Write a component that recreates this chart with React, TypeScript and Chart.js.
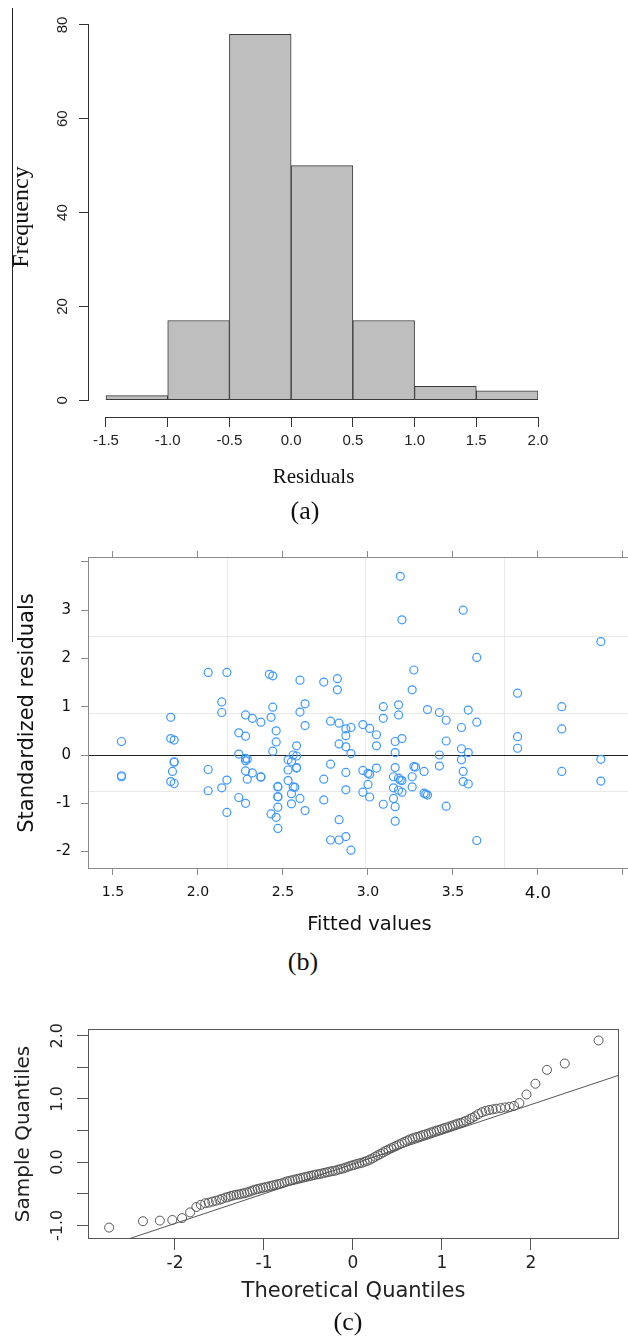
import React, { useEffect, useRef } from "react";
import { Chart, registerables } from "chart.js";

Chart.register(...registerables);

// ---------- Panel (a): histogram of residuals ----------
const histBinCenters = [-1.25, -0.75, -0.25, 0.25, 0.75, 1.25, 1.75];
const histCounts = [1, 17, 78, 50, 17, 3, 2];
const histXTicks = [-1.5, -1.0, -0.5, 0.0, 0.5, 1.0, 1.5, 2.0];
const histXLabels = ["-1.5", "-1.0", "-0.5", "0.0", "0.5", "1.0", "1.5", "2.0"];
const histYTicks = [0, 20, 40, 60, 80];
const histYLabels = ["0", "20", "40", "60", "80"];

// ---------- Panel (b): standardized residuals vs fitted ----------
const bPoints: number[][] = [
  [3.19, 3.7], [3.56, 3.0], [3.2, 2.8], [4.37, 2.35], [3.64, 2.02], [2.06, 1.71], [2.17, 1.71],
  [2.42, 1.67], [2.44, 1.64], [2.6, 1.55], [2.74, 1.51], [2.82, 1.58], [2.82, 1.35], [3.27, 1.76],
  [3.26, 1.35], [3.88, 1.28],
  [2.14, 1.1], [2.14, 0.88], [1.84, 0.78], [2.28, 0.83], [2.32, 0.76], [2.37, 0.68], [2.43, 0.78],
  [2.44, 0.99], [2.6, 0.89], [2.63, 1.06], [2.63, 0.61], [2.78, 0.7], [2.83, 0.66], [2.87, 0.54],
  [2.9, 0.57], [2.97, 0.63], [3.01, 0.55], [3.05, 0.42], [3.09, 1.0], [3.09, 0.76], [3.18, 1.04],
  [3.18, 0.83], [3.35, 0.94], [3.42, 0.88], [3.46, 0.72], [3.59, 0.93], [3.55, 0.57], [3.64, 0.68],
  [4.14, 1.0], [4.14, 0.54], [3.88, 0.38], [3.88, 0.14], [1.55, 0.28], [1.84, 0.34], [1.86, 0.31],
  [2.24, 0.46], [2.28, 0.39], [2.46, 0.5], [2.46, 0.27], [2.44, 0.08], [2.58, 0.19], [2.83, 0.23],
  [2.87, 0.4], [2.87, 0.17], [2.9, 0.03], [3.05, 0.19], [3.16, 0.28], [3.2, 0.34], [3.16, 0.05],
  [3.46, 0.29], [3.55, 0.13], [3.59, 0.05], [3.42, 0.0], [2.24, 0.02],
  [1.55, -0.43], [1.55, -0.45], [1.86, -0.14], [1.86, -0.15], [1.85, -0.34], [1.84, -0.55],
  [1.86, -0.59], [2.06, -0.3], [2.06, -0.74], [2.14, -0.68], [2.17, -0.52], [2.17, -1.19],
  [2.24, -0.88], [2.28, -1.0], [2.28, -0.07], [2.28, -0.12], [2.29, -0.09], [2.28, -0.33],
  [2.29, -0.5], [2.32, -0.37], [2.37, -0.45], [2.37, -0.46], [2.43, -1.22], [2.46, -1.29],
  [2.47, -1.52], [2.47, -0.65], [2.47, -0.66], [2.47, -0.86], [2.47, -0.87], [2.47, -1.08],
  [2.53, -0.1], [2.55, -0.14], [2.56, 0.0], [2.58, -0.02], [2.58, -0.26], [2.58, -0.27],
  [2.53, -0.31], [2.53, -0.53], [2.56, -0.66], [2.57, -0.67], [2.55, -0.8], [2.55, -1.01],
  [2.6, -0.9], [2.63, -1.15], [2.74, -0.5], [2.74, -0.93], [2.78, -0.19], [2.83, -1.34],
  [2.87, -0.36], [2.87, -0.72], [2.78, -1.76], [2.83, -1.76], [2.87, -1.69], [2.9, -1.97],
  [2.97, -0.32], [2.97, -0.77], [3.0, -0.38], [3.01, -0.4], [3.0, -0.61], [3.01, -0.87],
  [3.05, -0.27], [3.09, -1.02], [3.15, -0.45], [3.16, -0.26], [3.18, -0.48], [3.19, -0.52],
  [3.2, -0.53], [3.15, -0.68], [3.18, -0.73], [3.2, -0.77], [3.15, -0.9], [3.16, -1.07],
  [3.16, -1.37], [3.26, -0.45], [3.26, -0.66], [3.27, -0.24], [3.28, -0.25], [3.33, -0.34],
  [3.33, -0.79], [3.35, -0.83], [3.34, -0.81], [3.42, -0.23], [3.46, -1.06], [3.55, -0.1],
  [3.56, -0.34], [3.56, -0.55], [3.59, -0.6], [3.64, -1.77], [4.14, -0.34], [4.37, -0.09],
  [4.37, -0.54],
];
const bXTicks = [1.5, 2.0, 2.5, 3.0, 3.5, 4.0, 4.5];
const bXLabels = ["1.5", "2.0", "2.5", "3.0", "3.5", "4.0", ""];
const bYTicks = [-2, -1, 0, 1, 2, 3, 4];
const bYLabels = ["-2", "-1", "0", "1", "2", "3", ""];
const bGridX = [2.17, 2.98, 3.8];
const bGridY = [2.46, 0.87, -0.75];
const bRefY = 0;

// ---------- Panel (c): normal Q-Q plot ----------
const qqPoints: number[][] = [
  [-2.74, -1.035], [-2.36, -0.935], [-2.17, -0.925], [-2.03, -0.915], [-1.92, -0.885], [-1.83, -0.795],
  [-1.76, -0.71], [-1.71, -0.675], [-1.66, -0.65], [-1.62, -0.64], [-1.58, -0.625], [-1.54, -0.61],
  [-1.5, -0.595], [-1.47, -0.58], [-1.43, -0.56], [-1.4, -0.55], [-1.37, -0.535], [-1.34, -0.525],
  [-1.31, -0.515], [-1.28, -0.51], [-1.25, -0.5], [-1.22, -0.49], [-1.19, -0.48], [-1.16, -0.465],
  [-1.13, -0.45], [-1.1, -0.435], [-1.07, -0.425], [-1.04, -0.415], [-1.01, -0.405], [-0.98, -0.395],
  [-0.95, -0.385], [-0.92, -0.375], [-0.89, -0.365], [-0.86, -0.355], [-0.83, -0.345], [-0.8, -0.335],
  [-0.77, -0.32], [-0.74, -0.305], [-0.71, -0.295], [-0.68, -0.285], [-0.65, -0.275], [-0.62, -0.265],
  [-0.59, -0.255], [-0.56, -0.245], [-0.53, -0.235], [-0.5, -0.225], [-0.47, -0.215], [-0.44, -0.205],
  [-0.41, -0.195], [-0.38, -0.19], [-0.35, -0.18], [-0.32, -0.17], [-0.29, -0.16], [-0.26, -0.15],
  [-0.23, -0.14], [-0.2, -0.135], [-0.17, -0.12], [-0.14, -0.11], [-0.11, -0.1], [-0.08, -0.085],
  [-0.05, -0.07], [-0.02, -0.055], [0.01, -0.045], [0.04, -0.03], [0.07, -0.02], [0.1, -0.01],
  [0.13, 0.005], [0.16, 0.02], [0.19, 0.04], [0.22, 0.06], [0.25, 0.085], [0.28, 0.11],
  [0.31, 0.13], [0.34, 0.155], [0.37, 0.18], [0.4, 0.2], [0.43, 0.22], [0.46, 0.24],
  [0.49, 0.26], [0.52, 0.28], [0.55, 0.3], [0.58, 0.32], [0.61, 0.34], [0.64, 0.36],
  [0.67, 0.375], [0.7, 0.39], [0.73, 0.4], [0.76, 0.415], [0.79, 0.43], [0.82, 0.44],
  [0.85, 0.455], [0.88, 0.47], [0.91, 0.485], [0.94, 0.5], [0.97, 0.51], [1.0, 0.525],
  [1.03, 0.54], [1.06, 0.55], [1.09, 0.565], [1.12, 0.58], [1.15, 0.595], [1.18, 0.61],
  [1.21, 0.62], [1.24, 0.635], [1.27, 0.655], [1.31, 0.68], [1.34, 0.7], [1.37, 0.725],
  [1.41, 0.76], [1.45, 0.79], [1.49, 0.81], [1.53, 0.825], [1.57, 0.835], [1.61, 0.845],
  [1.66, 0.855], [1.71, 0.865], [1.76, 0.875], [1.81, 0.89], [1.87, 0.935], [1.95, 1.07],
  [2.05, 1.24], [2.18, 1.46], [2.38, 1.56], [2.76, 1.925],
];
const qqLineIntercept = -0.03;
const qqLineSlope = 0.47;
const cXTicks = [-2, -1, 0, 1, 2];
const cXLabels = ["-2", "-1", "0", "1", "2"];
const cYTicks = [-1, -0.5, 0, 0.5, 1, 1.5, 2];
const cYLabels = ["-1.0", "", "0.0", "", "1.0", "", "2.0"];

// ---------- helpers ----------
const SERIF = '"Liberation Serif", "Times New Roman", serif';
const SANS_R = '"Liberation Sans", Arial, sans-serif';
const SANS_L = '"DejaVu Sans", "Noto Sans", sans-serif';

const setTicks = (values: number[]) => (scale: any) => {
  scale.ticks = values.map((v) => ({ value: v }));
};
const labelFor = (values: number[], labels: string[]) => (v: any) => {
  const i = values.indexOf(Number(v));
  return i >= 0 ? labels[i] : "";
};
const fixWidth = (w: number) => (scale: any) => {
  scale.width = w;
};
const fixHeight = (h: number) => (scale: any) => {
  scale.height = h;
};

const histAxesPlugin = {
  id: "histAxes",
  afterDraw(chart: any) {
    const { ctx, chartArea, scales } = chart;
    const xs = scales.x;
    const ys = scales.y;
    ctx.save();
    ctx.strokeStyle = "#333";
    ctx.lineWidth = 1;
    ctx.beginPath();
    const yb = Math.round(chartArea.bottom) + 0.5;
    ctx.moveTo(Math.round(xs.getPixelForValue(histXTicks[0])), yb);
    ctx.lineTo(Math.round(xs.getPixelForValue(histXTicks[histXTicks.length - 1])) + 1, yb);
    const xl = Math.round(chartArea.left) - 0.5;
    ctx.moveTo(xl, Math.round(ys.getPixelForValue(histYTicks[0])) + 1);
    ctx.lineTo(xl, Math.round(ys.getPixelForValue(histYTicks[histYTicks.length - 1])));
    ctx.stroke();
    ctx.restore();
  },
};

const residPlugin = {
  id: "residDecor",
  beforeDatasetsDraw(chart: any) {
    const { ctx, chartArea, scales } = chart;
    const xs = scales.x;
    const ys = scales.y;
    ctx.save();
    ctx.lineWidth = 1;
    ctx.strokeStyle = "#e9e9e9";
    ctx.beginPath();
    bGridX.forEach((g) => {
      const p = Math.round(xs.getPixelForValue(g)) + 0.5;
      ctx.moveTo(p, chartArea.top);
      ctx.lineTo(p, chartArea.bottom);
    });
    bGridY.forEach((g) => {
      const p = Math.round(ys.getPixelForValue(g)) + 0.5;
      ctx.moveTo(chartArea.left, p);
      ctx.lineTo(chartArea.right, p);
    });
    ctx.stroke();
    ctx.strokeStyle = "#222";
    ctx.beginPath();
    const z = Math.round(ys.getPixelForValue(bRefY)) + 0.5;
    ctx.moveTo(chartArea.left, z);
    ctx.lineTo(chartArea.right, z);
    ctx.stroke();
    ctx.restore();
  },
  afterDraw(chart: any) {
    const { ctx, chartArea } = chart;
    ctx.save();
    ctx.strokeStyle = "#8a8a8a";
    ctx.lineWidth = 1;
    ctx.strokeRect(
      Math.round(chartArea.left) - 0.5,
      Math.round(chartArea.top) - 0.5,
      Math.round(chartArea.right - chartArea.left) + 1,
      Math.round(chartArea.bottom - chartArea.top) + 1
    );
    ctx.restore();
  },
};

const qqPlugin = {
  id: "qqDecor",
  beforeDatasetsDraw(chart: any) {
    const { ctx, chartArea, scales } = chart;
    const xs = scales.x;
    const ys = scales.y;
    ctx.save();
    ctx.beginPath();
    ctx.rect(chartArea.left, chartArea.top, chartArea.right - chartArea.left, chartArea.bottom - chartArea.top);
    ctx.clip();
    ctx.strokeStyle = "#555";
    ctx.lineWidth = 1;
    ctx.beginPath();
    const x0 = xs.min;
    const x1 = xs.max;
    ctx.moveTo(xs.getPixelForValue(x0), ys.getPixelForValue(qqLineIntercept + qqLineSlope * x0));
    ctx.lineTo(xs.getPixelForValue(x1), ys.getPixelForValue(qqLineIntercept + qqLineSlope * x1));
    ctx.stroke();
    ctx.restore();
  },
  afterDraw(chart: any) {
    const { ctx, chartArea } = chart;
    ctx.save();
    ctx.strokeStyle = "#555";
    ctx.lineWidth = 1;
    ctx.strokeRect(
      Math.round(chartArea.left) - 0.5,
      Math.round(chartArea.top) - 0.5,
      Math.round(chartArea.right - chartArea.left) + 1,
      Math.round(chartArea.bottom - chartArea.top) + 1
    );
    ctx.restore();
  },
};

function histConfig(): any {
  return {
    type: "bar",
    data: {
      datasets: [
        {
          data: histBinCenters.map((c, i) => ({ x: c, y: histCounts[i] })),
          backgroundColor: "#bebebe",
          borderColor: "#3a3a3a",
          borderWidth: 1,
          borderSkipped: false,
          barPercentage: 1,
          categoryPercentage: 1,
        },
      ],
    },
    options: {
      responsive: false,
      animation: false,
      events: [],
      layout: { padding: { left: 0, top: 10, right: 90, bottom: 0 } },
      plugins: { legend: { display: false }, tooltip: { enabled: false } },
      scales: {
        x: {
          type: "linear",
          min: -1.6377,
          max: 2.0,
          offset: false,
          afterBuildTicks: setTicks(histXTicks),
          afterFit: fixHeight(83),
          grid: { offset: false, drawOnChartArea: false, drawTicks: true, tickLength: 10, tickColor: "#333", color: "#333" },
          border: { display: false },
          ticks: {
            autoSkip: false,
            maxRotation: 0,
            padding: 5,
            color: "#222",
            font: { family: SANS_R, size: 15 },
            callback: labelFor(histXTicks, histXLabels),
          },
          title: {
            display: true,
            text: "Residuals",
            color: "#111",
            font: { family: SERIF, size: 21 },
            padding: { top: 0, bottom: 10 },
          },
        },
        y: {
          type: "linear",
          min: -3.56,
          max: 81.68,
          afterBuildTicks: setTicks(histYTicks),
          afterFit: fixWidth(89),
          grid: { drawOnChartArea: false, drawTicks: true, tickLength: 10, tickColor: "#333", color: "#333" },
          border: { display: false },
          ticks: {
            autoSkip: false,
            minRotation: 90,
            maxRotation: 90,
            crossAlign: "center",
            padding: 8,
            color: "#222",
            font: { family: SANS_R, size: 15 },
            callback: labelFor(histYTicks, histYLabels),
          },
          title: {
            display: true,
            text: "Frequency",
            color: "#111",
            font: { family: SERIF, size: 24 },
            padding: { top: 7, bottom: 0 },
          },
        },
      },
    },
    plugins: [histAxesPlugin],
  };
}

function residConfig(): any {
  return {
    type: "scatter",
    data: {
      datasets: [
        {
          data: bPoints.map((p) => ({ x: p[0], y: p[1] })),
          pointStyle: "circle",
          pointRadius: 4,
          borderWidth: 1.2,
          borderColor: "#3d98ff",
          backgroundColor: "rgba(0,0,0,0)",
        },
      ],
    },
    options: {
      responsive: false,
      animation: false,
      events: [],
      layout: { padding: { left: 0, top: 0, right: 70, bottom: 0 } },
      plugins: { legend: { display: false }, tooltip: { enabled: false } },
      scales: {
        x: {
          type: "linear",
          position: "bottom",
          min: 1.359,
          max: 4.659,
          afterBuildTicks: setTicks(bXTicks),
          afterFit: fixHeight(72),
          grid: { drawOnChartArea: false, drawTicks: true, tickLength: 7, tickColor: "#8a8a8a", color: "#8a8a8a" },
          border: { display: false },
          ticks: {
            autoSkip: false,
            maxRotation: 0,
            padding: 9,
            color: "#111",
            font: (ctx: any) =>
              ctx.tick && ctx.tick.value === 4
                ? { family: SANS_L, size: 16.5 }
                : { family: SANS_L, size: 14 },
            callback: labelFor(bXTicks, bXLabels),
          },
          title: {
            display: true,
            text: "Fitted values",
            color: "#111",
            font: { family: SANS_L, size: 19.5 },
            padding: { top: 0, bottom: 3 },
          },
        },
        xTop: {
          type: "linear",
          axis: "x",
          position: "top",
          min: 1.359,
          max: 4.659,
          afterBuildTicks: setTicks(bXTicks),
          afterFit: fixHeight(28),
          grid: { drawOnChartArea: false, drawTicks: true, tickLength: 7, tickColor: "#8a8a8a", color: "#8a8a8a" },
          border: { display: false },
          ticks: { display: false },
        },
        y: {
          type: "linear",
          min: -2.34,
          max: 4.08,
          afterBuildTicks: setTicks(bYTicks),
          afterFit: fixWidth(89),
          grid: { drawOnChartArea: false, drawTicks: true, tickLength: 8, tickColor: "#8a8a8a", color: "#8a8a8a" },
          border: { display: false },
          ticks: {
            autoSkip: false,
            padding: 10,
            color: "#111",
            font: { family: SANS_L, size: 15 },
            callback: labelFor(bYTicks, bYLabels),
          },
          title: {
            display: true,
            text: "Standardized residuals",
            color: "#111",
            font: { family: SANS_L, size: 21 },
            padding: { top: 15, bottom: 0 },
          },
        },
      },
    },
    plugins: [residPlugin],
  };
}

function qqConfig(): any {
  return {
    type: "scatter",
    data: {
      datasets: [
        {
          data: qqPoints.map((p) => ({ x: p[0], y: p[1] })),
          pointStyle: "circle",
          pointRadius: 4.5,
          borderWidth: 1,
          borderColor: "#555",
          backgroundColor: "rgba(0,0,0,0)",
        },
      ],
    },
    options: {
      responsive: false,
      animation: false,
      events: [],
      layout: { padding: { left: 0, top: 30, right: 10, bottom: 0 } },
      plugins: { legend: { display: false }, tooltip: { enabled: false } },
      scales: {
        x: {
          type: "linear",
          min: -2.966,
          max: 2.978,
          afterBuildTicks: setTicks(cXTicks),
          afterFit: fixHeight(100),
          grid: { drawOnChartArea: false, drawTicks: true, tickLength: 12, tickColor: "#555", color: "#555" },
          border: { display: false },
          ticks: {
            autoSkip: false,
            maxRotation: 0,
            padding: 3,
            color: "#222",
            font: { family: SANS_L, size: 17 },
            callback: labelFor(cXTicks, cXLabels),
          },
          title: {
            display: true,
            text: "Theoretical Quantiles",
            color: "#222",
            font: { family: SANS_L, size: 21 },
            padding: { top: 0, bottom: 34 },
          },
        },
        y: {
          type: "linear",
          min: -1.2,
          max: 2.09,
          afterBuildTicks: setTicks(cYTicks),
          afterFit: fixWidth(89),
          grid: { drawOnChartArea: false, drawTicks: true, tickLength: 12, tickColor: "#555", color: "#555" },
          border: { display: false },
          ticks: {
            autoSkip: false,
            minRotation: 90,
            maxRotation: 90,
            crossAlign: "center",
            padding: 4,
            color: "#222",
            font: { family: SANS_L, size: 16 },
            callback: labelFor(cYTicks, cYLabels),
          },
          title: {
            display: true,
            text: "Sample Quantiles",
            color: "#222",
            font: { family: SANS_L, size: 20 },
            padding: { top: 12, bottom: 0 },
          },
        },
      },
    },
    plugins: [qqPlugin],
  };
}

function ChartCanvas(props: { make: () => any; left: number; top: number; width: number; height: number }) {
  const ref = useRef<HTMLCanvasElement>(null);
  useEffect(() => {
    const chart = new Chart(ref.current as HTMLCanvasElement, props.make());
    return () => chart.destroy();
  }, []);
  return (
    <canvas
      ref={ref}
      width={props.width}
      height={props.height}
      style={{
        position: "absolute",
        left: props.left,
        top: props.top,
        width: props.width,
        height: props.height,
        display: "block",
      }}
    />
  );
}

const captionStyle = (x: number, y: number): React.CSSProperties => ({
  position: "absolute",
  left: x,
  top: y,
  transform: "translate(-50%, -50%)",
  fontFamily: SERIF,
  fontSize: 26,
  lineHeight: 1,
  color: "#111",
  whiteSpace: "nowrap",
});

export default function App() {
  return (
    <div
      style={{
        position: "absolute",
        left: 0,
        top: 0,
        width: 628,
        height: 1338,
        overflow: "hidden",
        background: "#fff",
      }}
    >
      <ChartCanvas make={histConfig} left={0} top={0} width={628} height={500} />
      <ChartCanvas make={residConfig} left={0} top={530} width={720} height={410} />
      <ChartCanvas make={qqConfig} left={0} top={1000} width={628} height={338} />
      <div style={{ position: "absolute", left: 12, top: 8, width: 1, height: 634, background: "#222" }} />
      <div style={captionStyle(305, 511)}>(a)</div>
      <div style={captionStyle(303, 962)}>(b)</div>
      <div style={captionStyle(348, 1322)}>(c)</div>
    </div>
  );
}
